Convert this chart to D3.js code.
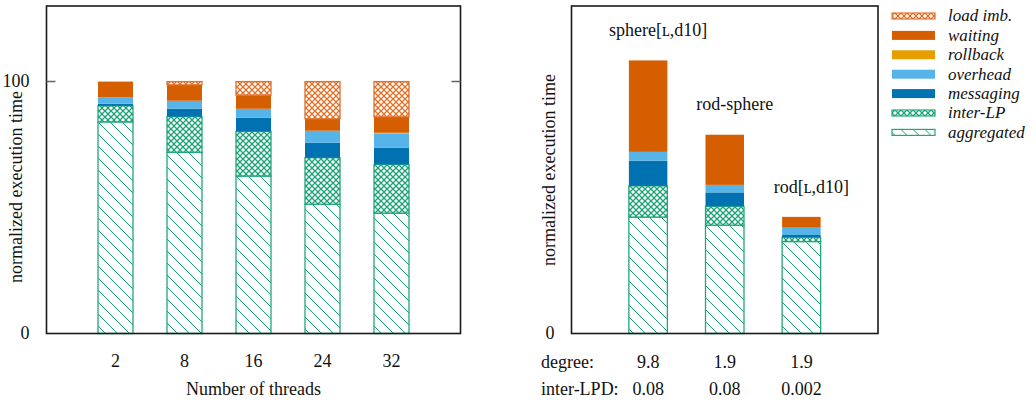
<!DOCTYPE html>
<html>
<head>
<meta charset="utf-8">
<script src="https://cdn.jsdelivr.net/npm/d3@7"></script>
<style>
  body { margin: 0; background: #fff; }
  text { font-family: "Liberation Serif", "DejaVu Serif", serif; fill: #111; }
</style>
</head>
<body>
<div id="chart"></div>
<script>
// left panel: breakdown per thread count
const threads = ["2", "8", "16", "24", "32"];
const aggregated = [84.0, 71.9, 62.5, 51.3, 47.8];
const interLP = [6.4, 14.2, 17.7, 18.5, 19.3];
const messaging = [0.8, 3.1, 5.4, 5.9, 6.6];
const overhead = [2.5, 3.2, 3.6, 4.8, 5.7];
const rollback = [0, 0, 0, 0, 0.3];
const waiting = [6.3, 6.3, 5.4, 4.7, 6.3];
const loadImb = [0, 1.3, 5.4, 14.8, 14.0];

// right panel: per model
const models = ["sphere[ʟ,d10]", "rod-sphere", "rod[ʟ,d10]"];
const degree = ["9.8", "1.9", "1.9"];
const interLPD = ["0.08", "0.08", "0.002"];
const aggregated2 = [46.2, 43.0, 36.5];
const interLP2 = [12.4, 7.5, 1.7];
const messaging2 = [10.0, 5.5, 0.9];
const overhead2 = [3.5, 3.0, 2.9];
const rollback2 = [0, 0, 0];
const waiting2 = [36.3, 19.9, 4.3];
const loadImb2 = [0, 0, 0];

const yTicks = [0, 100];

const keys = ["aggregated", "inter-LP", "messaging", "overhead", "rollback", "waiting", "load imb."];
const fills = {
  "aggregated": "url(#diag)",
  "inter-LP": "url(#xgreen)",
  "messaging": "#0072b2",
  "overhead": "#56b4e9",
  "rollback": "#e69f00",
  "waiting": "#d55e00",
  "load imb.": "url(#xorange)"
};
const strokes = {
  "aggregated": "#22a77c",
  "inter-LP": "#22a77c",
  "load imb.": "#e0702a"
};

const width = 1036, height = 403;
const svg = d3.select("#chart").append("svg")
  .attr("width", width).attr("height", height);

const defs = svg.append("defs");
function cross(id, color) {
  const s = 6;
  const p = defs.append("pattern").attr("id", id)
    .attr("patternUnits", "userSpaceOnUse").attr("width", s).attr("height", s);
  p.append("rect").attr("width", s).attr("height", s).attr("fill", "#fff");
  p.append("path").attr("d", `M0,0L${s},${s}M${s},0L0,${s}`)
    .attr("stroke", color).attr("stroke-width", 1.25);
}
cross("xgreen", "#1aa175");
cross("xorange", "#e27128");
const dp = defs.append("pattern").attr("id", "diag")
  .attr("patternUnits", "userSpaceOnUse").attr("width", 12).attr("height", 12);
dp.append("rect").attr("width", 12).attr("height", 12).attr("fill", "#fff");
dp.append("path").attr("d", "M0,0L12,12M-6,6L6,18M6,-6L18,6")
  .attr("stroke", "#1aa175").attr("stroke-width", 1);

const plotTop = 6, plotBottom = 333.5;

function panel(opts) {
  const { cats, series, x0, x1, barW, topTick, labelDx, labelCy } = opts;
  const x = d3.scaleLinear().domain([0, cats.length + 1]).range([x0, x1]);
  const y = d3.scaleLinear().domain([0, 130]).range([plotBottom, plotTop]);

  const rows = cats.map((c, i) => {
    const r = { cat: c, i: i };
    keys.forEach(k => r[k] = series[k][i]);
    return r;
  });
  const stacked = d3.stack().keys(keys)(rows);

  const g = svg.append("g");
  stacked.forEach(layer => {
    g.selectAll(null).data(layer.filter(d => d[1] - d[0] > 0)).enter()
      .append("rect")
      .attr("x", d => x(d.data.i + 1) - barW / 2)
      .attr("width", barW)
      .attr("y", d => y(d[1]))
      .attr("height", d => y(d[0]) - y(d[1]))
      .attr("fill", fills[layer.key])
      .attr("stroke", strokes[layer.key] || "none")
      .attr("stroke-width", strokes[layer.key] ? 1.3 : 0);
  });

  // frame
  g.append("rect").attr("x", x0).attr("y", plotTop)
    .attr("width", x1 - x0).attr("height", plotBottom - plotTop)
    .attr("fill", "none").attr("stroke", "#1a1a1a").attr("stroke-width", 1.6);

  if (topTick) {
    g.selectAll(null).data(yTicks.filter(t => t > 0)).enter().append("path")
      .attr("d", t => `M${x0},${y(t)}h9M${x1},${y(t)}h-9`)
      .attr("stroke", "#666").attr("stroke-width", 1.5);
  }
  g.selectAll(null).data(topTick ? yTicks : [0]).enter().append("text")
    .attr("x", x0 - 17).attr("y", t => y(t)).attr("dy", "0.32em")
    .attr("text-anchor", "end").style("font-size", "18px")
    .text(t => t);

  g.append("text")
    .attr("transform", `translate(${x0 + labelDx},${labelCy}) rotate(-90)`)
    .attr("text-anchor", "middle").attr("dy", "0.32em")
    .style("font-size", "18px")
    .text("normalized execution time");

  return { x, y, g, stacked };
}

const left = panel({
  cats: threads,
  series: {
    "aggregated": aggregated, "inter-LP": interLP, "messaging": messaging,
    "overhead": overhead, "rollback": rollback, "waiting": waiting, "load imb.": loadImb
  },
  x0: 46.5, x1: 460.5, barW: 35, topTick: true, labelDx: -30, labelCy: 187
});
left.g.selectAll(null).data(threads).enter().append("text")
  .attr("x", (d, i) => left.x(i + 1)).attr("y", 361).attr("dy", "0.32em")
  .attr("text-anchor", "middle").style("font-size", "18px").text(d => d);
left.g.append("text")
  .attr("x", (left.x(0) + left.x(6)) / 2).attr("y", 389).attr("dy", "0.32em")
  .attr("text-anchor", "middle").style("font-size", "18px")
  .text("Number of threads");

const right = panel({
  cats: models,
  series: {
    "aggregated": aggregated2, "inter-LP": interLP2, "messaging": messaging2,
    "overhead": overhead2, "rollback": rollback2, "waiting": waiting2, "load imb.": loadImb2
  },
  x0: 571.5, x1: 878, barW: 38.5, topTick: false, labelDx: -22, labelCy: 170
});
const totals = models.map((m, i) => d3.sum(right.stacked, l => l[i][1] - l[i][0]));
right.g.selectAll(null).data(models).enter().append("text")
  .attr("x", (d, i) => right.x(i + 1) + 10)
  .attr("y", (d, i) => right.y(totals[i]) - 30).attr("dy", "0.32em")
  .attr("text-anchor", "middle").style("font-size", "18px").text(d => d);

[["degree:", degree, 362], ["inter-LPD:", interLPD, 389]].forEach(([lab, vals, yy]) => {
  right.g.append("text").attr("x", 541).attr("y", yy).attr("dy", "0.32em")
    .style("font-size", "18px").text(lab);
  right.g.selectAll(null).data(vals).enter().append("text")
    .attr("x", (d, i) => right.x(i + 1)).attr("y", yy).attr("dy", "0.32em")
    .attr("text-anchor", "middle").style("font-size", "18px").text(d => d);
});

// legend
const legendKeys = keys.slice().reverse();
const lg = svg.append("g").attr("transform", "translate(892,16)");
const item = lg.selectAll("g").data(legendKeys).enter().append("g")
  .attr("transform", (d, i) => `translate(0,${i * 19.4})`);
item.append("rect")
  .attr("x", 0).attr("width", 43)
  .attr("y", d => strokes[d] ? -3 : -4.5)
  .attr("height", d => strokes[d] ? 6 : 9)
  .attr("fill", d => fills[d])
  .attr("stroke", d => strokes[d] || "none")
  .attr("stroke-width", 1.2);
item.append("text").attr("x", 56).attr("dy", "0.32em")
  .style("font-size", "17px").style("font-style", "italic")
  .text(d => d);
</script>
</body>
</html>
